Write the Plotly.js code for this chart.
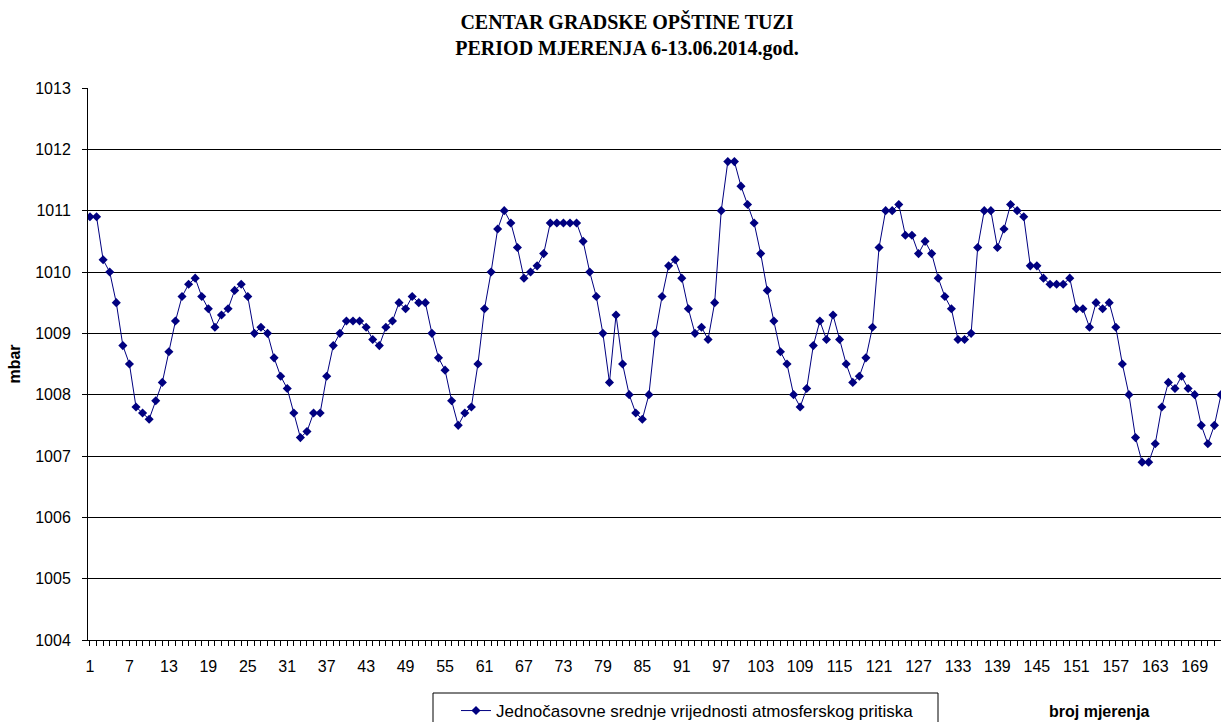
<!DOCTYPE html>
<html>
<head>
<meta charset="utf-8">
<script src="https://cdn.plot.ly/plotly-3.0.1.min.js"></script>
<style>html,body{margin:0;padding:0;background:#fff;}#chart{width:1221px;height:722px;}</style>
</head>
<body>
<div id="chart"></div>
<script>
const pressure = [
1010.9,1010.9,1010.2,1010.0,1009.5,1008.8,1008.5,1007.8,1007.7,1007.6,
1007.9,1008.2,1008.7,1009.2,1009.6,1009.8,1009.9,1009.6,1009.4,1009.1,
1009.3,1009.4,1009.7,1009.8,1009.6,1009.0,1009.1,1009.0,1008.6,1008.3,
1008.1,1007.7,1007.3,1007.4,1007.7,1007.7,1008.3,1008.8,1009.0,1009.2,
1009.2,1009.2,1009.1,1008.9,1008.8,1009.1,1009.2,1009.5,1009.4,1009.6,
1009.5,1009.5,1009.0,1008.6,1008.4,1007.9,1007.5,1007.7,1007.8,1008.5,
1009.4,1010.0,1010.7,1011.0,1010.8,1010.4,1009.9,1010.0,1010.1,1010.3,
1010.8,1010.8,1010.8,1010.8,1010.8,1010.5,1010.0,1009.6,1009.0,1008.2,
1009.3,1008.5,1008.0,1007.7,1007.6,1008.0,1009.0,1009.6,1010.1,1010.2,
1009.9,1009.4,1009.0,1009.1,1008.9,1009.5,1011.0,1011.8,1011.8,1011.4,
1011.1,1010.8,1010.3,1009.7,1009.2,1008.7,1008.5,1008.0,1007.8,1008.1,
1008.8,1009.2,1008.9,1009.3,1008.9,1008.5,1008.2,1008.3,1008.6,1009.1,
1010.4,1011.0,1011.0,1011.1,1010.6,1010.6,1010.3,1010.5,1010.3,1009.9,
1009.6,1009.4,1008.9,1008.9,1009.0,1010.4,1011.0,1011.0,1010.4,1010.7,
1011.1,1011.0,1010.9,1010.1,1010.1,1009.9,1009.8,1009.8,1009.8,1009.9,
1009.4,1009.4,1009.1,1009.5,1009.4,1009.5,1009.1,1008.5,1008.0,1007.3,
1006.9,1006.9,1007.2,1007.8,1008.2,1008.1,1008.3,1008.1,1008.0,1007.5,
1007.2,1007.5,1008.0
];
const measurementNo = pressure.map((_, i) => i + 1);
const seriesName = "Jednočasovne srednje vrijednosti atmosferskog pritiska";
const titleLines = ["CENTAR GRADSKE OPŠTINE TUZI", "PERIOD MJERENJA 6-13.06.2014.god."];
const yTitle = "mbar";
const xTitle = "broj mjerenja";

const trace = {
  x: measurementNo,
  y: pressure,
  type: "scatter",
  mode: "lines+markers",
  name: seriesName,
  line: {color: "#000080", width: 1},
  marker: {symbol: "diamond", size: 7, color: "#000080"}
};

const W = 1133, H = 552; // plot area size in px
const layout = {
  width: 1221, height: 722,
  paper_bgcolor: "#ffffff", plot_bgcolor: "#ffffff",
  margin: {l: 88, r: 0, t: 88, b: 82, autoexpand: false},
  font: {family: "Arial, 'Liberation Sans', sans-serif", size: 16, color: "#000"},
  title: {
    text: titleLines.join("<br>"),
    font: {family: "'Times New Roman', 'Liberation Serif', serif", size: 20, color: "#000", weight: "bold"},
    xref: "container", x: 627 / 1221, xanchor: "center",
    yref: "container", y: 1 - 29 / 722, yanchor: "middle"
  },
  xaxis: {
    range: [0.7, 173.0],
    tick0: 1, dtick: 6,
    ticks: "outside", ticklen: 5, tickcolor: "#000", tickwidth: 1,
    minor: {dtick: 1, tick0: 1, ticks: "outside", ticklen: 5, tickcolor: "#000", tickwidth: 1},
    showline: true, linecolor: "#000", linewidth: 1,
    showgrid: false, zeroline: false,
    ticklabelstandoff: 7,
    tickfont: {size: 16}
  },
  yaxis: {
    range: [1004, 1013],
    dtick: 1,
    ticks: "outside", ticklen: 5, tickcolor: "#000",
    showline: true, linecolor: "#000", linewidth: 1,
    showgrid: true, gridcolor: "#000", gridwidth: 1,
    zeroline: false,
    tickformat: "d",
    ticklabelstandoff: 8,
    tickfont: {size: 16},
    title: {text: yTitle, font: {size: 16, weight: "bold"}, standoff: 10}
  },
  showlegend: true,
  legend: {
    orientation: "h",
    x: (456 - 88) / W, xanchor: "left",
    y: (640 - 693) / H, yanchor: "top",
    borderwidth: 0,
    bgcolor: "rgba(0,0,0,0)",
    font: {size: 17}
  },
  shapes: [{
    type: "rect", xref: "paper", yref: "paper",
    x0: (433 - 88) / W, x1: (938 - 88) / W,
    y0: (640 - 693) / H, y1: (640 - 740) / H,
    line: {color: "#000", width: 1}, fillcolor: "rgba(0,0,0,0)", layer: "below"
  }],
  annotations: [{
    text: "<b>" + xTitle + "</b>",
    xref: "paper", yref: "paper",
    x: (1099 - 88) / W, y: (640 - 711) / H,
    xanchor: "center", yanchor: "middle",
    showarrow: false,
    font: {size: 16}
  }]
};

Plotly.newPlot("chart", [trace], layout, {displayModeBar: false, staticPlot: true});
</script>
</body>
</html>
